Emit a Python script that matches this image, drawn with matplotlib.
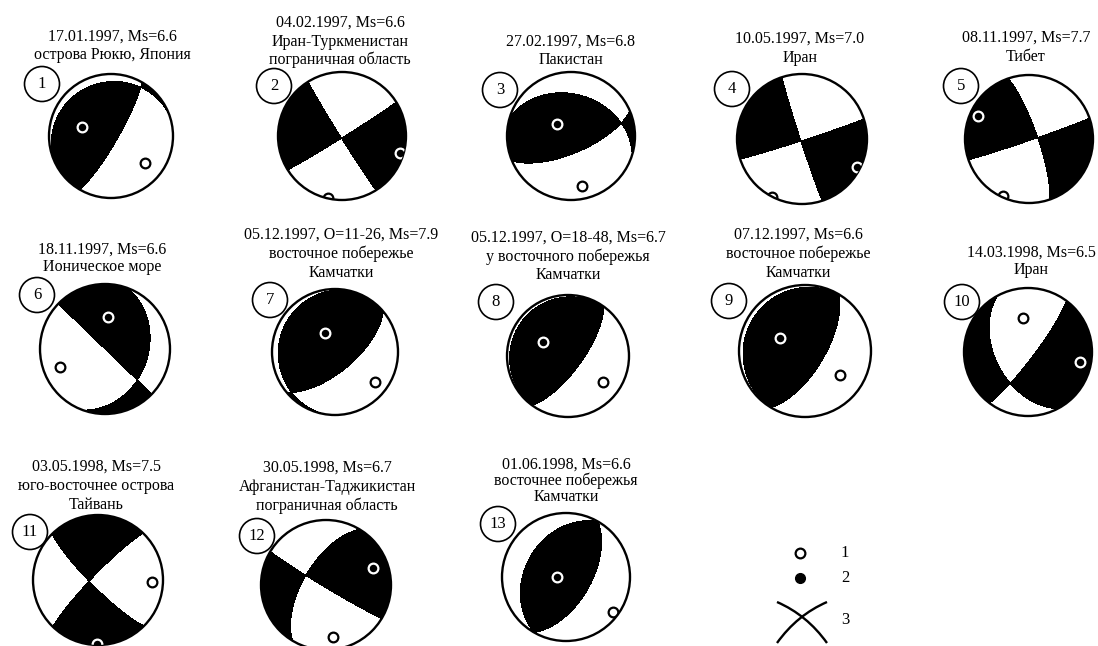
import numpy as np
import matplotlib
matplotlib.use("Agg")
from matplotlib import pyplot as plt
from matplotlib.patches import Circle, PathPatch
from matplotlib.path import Path

plt.rcParams['font.family'] = ['Liberation Serif', 'DejaVu Serif']

#==============================================================#
# данные: механизмы очагов (две нодальные плоскости, оси)
titles = [
    ["17.01.1997, Ms=6.6", "острова Рюкю, Япония"],
    ["04.02.1997, Ms=6.6", "Иран-Туркменистан", "пограничная область"],
    ["27.02.1997, Ms=6.8", "Пакистан"],
    ["10.05.1997, Ms=7.0", "Иран"],
    ["08.11.1997, Ms=7.7", "Тибет"],
    ["18.11.1997, Ms=6.6", "Ионическое море"],
    ["05.12.1997, O=11-26, Ms=7.9", "восточное побережье", "Камчатки"],
    ["05.12.1997, O=18-48, Ms=6.7", "у восточного побережья", "Камчатки"],
    ["07.12.1997, Ms=6.6", "восточное побережье", "Камчатки"],
    ["14.03.1998, Ms=6.5", "Иран"],
    ["03.05.1998, Ms=7.5", "юго-восточнее острова", "Тайвань"],
    ["30.05.1998, Ms=6.7", "Афганистан-Таджикистан", "пограничная область"],
    ["01.06.1998, Ms=6.6", "восточнее побережья", "Камчатки"],
]
plane1_strike = [30, 148, 287, 162, 341, 314, 50, 36, 31, 152, 135, 121, 30]
plane1_dip    = [81, 88, 35, 88, 79, 90, 65, 71, 66, 48, 81, 87, 58]
plane2_strike = [250, 58, 67, 72, 71, 20, 190, 216, 211, 37, 224, 211, 210]
plane2_dip    = [14, 88, 68, 88, 88, 34, 11, 6, 8, 82, 83, 62, 36]
polarity      = [1, -1, 1, -1, 1, -1, 1, 1, 1, -1, -1, 1, 1]
axis1_trend   = [288, 106, 311, 117, 294, 6, 332, 299, 298, 351, 92, 70, 270]
axis1_plunge  = [49, 7, 66, 5, 14, 49, 62, 51, 55, 45, 18, 24, 78]
axis2_trend   = [129, 193, 168, 207, 204, 248, 127, 127, 124, 101, 181, 172, 127]
axis2_plunge  = [31, 0, 21, 0, 2, 26, 22, 29, 36, 18, 1, 20, 9]
legend_labels = ["1", "2", "3"]

# расположение (пиксели)
ball_x = [111, 342, 571, 802, 1029, 105, 335, 568, 805, 1028, 98, 326, 566]
ball_y = [136, 136, 136, 139, 139, 349, 352, 356, 351, 352, 580, 585, 577]
ball_r = [62, 64, 64, 65, 64, 65, 63, 61, 66, 64, 65, 65, 64]
badge_x = [42, 274, 500, 732, 961, 37, 270, 496, 729, 962, 30, 257, 498]
badge_y = [84, 86, 90, 89, 86, 295, 300, 302, 301, 302, 532, 536, 524]
title_x = [112, 340, 571, 800, 1026, 102, 341, 568, 798, 1031, 96, 327, 566]
title_y = [37, 23, 42, 39, 38, 250, 235, 238, 235, 253, 467, 468, 465]
title_dy = [18, 18.5, 18, 19, 19, 17, 19, 18.5, 19, 17, 19, 19, 16]

#==============================================================#
def plane_normal(strike, dip):
    """нормаль к плоскости (N, E, D)"""
    s, d = np.radians(strike), np.radians(dip)
    return np.array([-np.sin(d) * np.sin(s), np.sin(d) * np.cos(s), -np.cos(d)])

def ray(x, y):
    """точка круга (равноплощадная проекция, нижняя полусфера) -> луч"""
    r = np.clip(np.hypot(x, y), 0, 1)
    az = np.arctan2(x, y)
    inc = 2 * np.arcsin(r / np.sqrt(2))
    return np.stack([np.sin(inc) * np.cos(az), np.sin(inc) * np.sin(az), np.cos(inc)])

def project(trend, plunge):
    r = np.sqrt(2) * np.sin(np.radians(90 - plunge) / 2)
    return r * np.sin(np.radians(trend)), r * np.cos(np.radians(trend))

def radiation(i, x, y):
    v = ray(x, y)
    n1 = plane_normal(plane1_strike[i], plane1_dip[i])
    n2 = plane_normal(plane2_strike[i], plane2_dip[i])
    return polarity[i] * np.tensordot(n1, v, 1) * np.tensordot(n2, v, 1)

#==============================================================#
fig = plt.figure(figsize=(10.98, 6.46), dpi=100)
ax = fig.add_axes([0, 0, 1, 1])
ax.set_xlim(0, 1098)
ax.set_ylim(646, 0)
ax.axis('off')

u = np.linspace(-1.02, 1.02, 501)
X, Y = np.meshgrid(u, u)

for i in range(len(titles)):
    cx, cy, R = ball_x[i], ball_y[i], ball_r[i]
    circ = Circle((cx, cy), R, transform=ax.transData)

    f = radiation(i, X, Y)
    cs = ax.contourf(cx + X * R, cy - Y * R, f, levels=[0, 2], colors='black')
    cs.set_clip_path(circ)

    ax.add_patch(Circle((cx, cy), R, fill=False, ec='black', lw=1.7, zorder=4))

    # оси
    for tr, pl in [(axis1_trend[i], axis1_plunge[i]), (axis2_trend[i], axis2_plunge[i])]:
        px, py = project(tr, pl)
        col = 'white' if radiation(i, np.array(px), np.array(py)) > 0 else 'black'
        ln, = ax.plot(cx + px * R, cy - py * R, 'o', mfc='none', mec=col,
                      ms=7, mew=1.6, zorder=5)
        ln.set_clip_path(circ)

    # номер
    ax.add_patch(Circle((badge_x[i], badge_y[i]), 17.5, fc='white', ec='black',
                        lw=1.2, zorder=6))
    ax.text(badge_x[i], badge_y[i], str(i + 1), ha='center', va='center',
            fontsize=12, zorder=7)

    # подпись
    for k, line in enumerate(titles[i]):
        ax.text(title_x[i], title_y[i] + k * title_dy[i], line, ha='center',
                va='center', fontsize=11.5)

# легенда
lx, ly = 800, 553
ax.plot(lx, ly, 'o', mfc='none', mec='black', ms=7, mew=1.6)
ax.plot(lx, ly + 25, 'o', mfc='black', mec='black', ms=7)
for k, lab in enumerate(legend_labels):
    ax.text(lx + 45, ly + [0, 25, 67][k], lab, ha='center', va='center', fontsize=12)
cx3, cy3 = lx + 2, ly + 69
for sgn in (1, -1):
    verts = [(cx3 - 25 * sgn, cy3 - 20), (cx3 + 5 * sgn, cy3 - 7), (cx3 + 25 * sgn, cy3 + 21)]
    ax.add_patch(PathPatch(Path(verts, [Path.MOVETO, Path.CURVE3, Path.CURVE3]),
                           fill=False, lw=1.7, ec='black'))

fig.savefig('out.png', dpi=100)
